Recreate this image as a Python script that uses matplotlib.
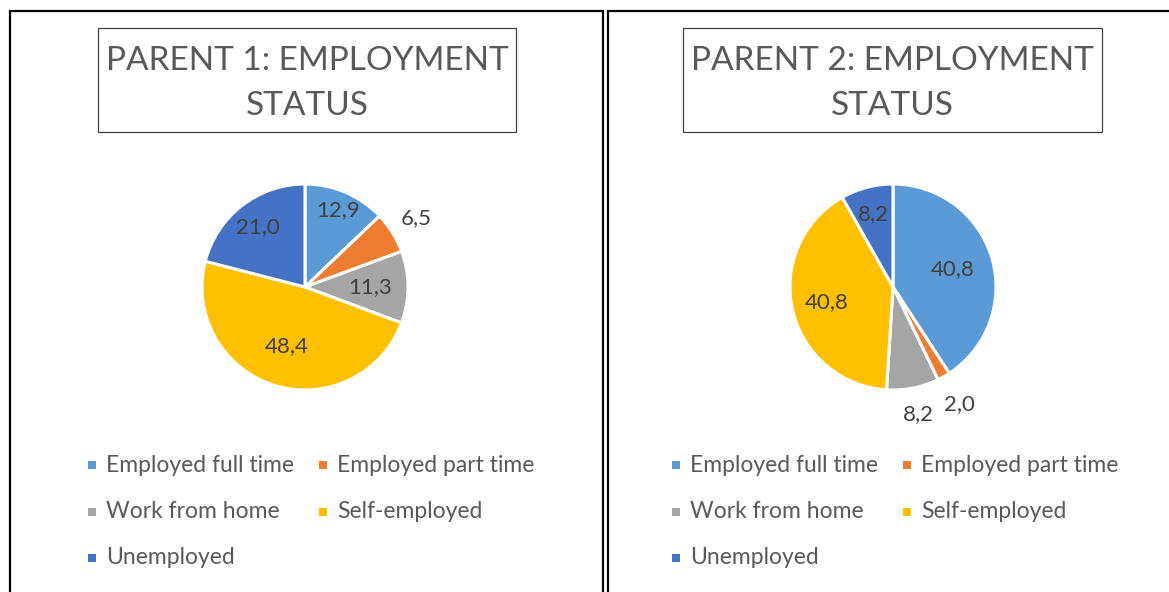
import numpy as np
import matplotlib
matplotlib.use("Agg")
import matplotlib.pyplot as plt
from matplotlib.patches import Rectangle

# data
categories = ["Employed full time", "Employed part time", "Work from home",
              "Self-employed", "Unemployed"]
parent1 = [12.9, 6.5, 11.3, 48.4, 21.0]
parent2 = [40.8, 2.0, 8.2, 40.8, 8.2]
titles = ["PARENT 1: EMPLOYMENT\nSTATUS", "PARENT 2: EMPLOYMENT\nSTATUS"]

colors = ["#5B9BD5", "#ED7D31", "#A5A5A5", "#FFC000", "#4472C4"]
# label distance from centre (fraction of radius), Excel "best fit" look
dist1 = [0.81, 1.27, 0.63, 0.60, 0.74]
dist2 = [0.60, 1.31, 1.26, 0.66, 0.73]

W, H = 1169, 592
fig = plt.figure(figsize=(W / 100, H / 100), dpi=100)
plt.rcParams['font.family'] = ['Lato', 'DejaVu Sans']

def fx(x):
    return x / W

def fy(y):
    return 1 - y / H

txt_gray = "#595959"
lbl_gray = "#404040"

panels = [
    dict(x0=10, x1=603, cx=305, vals=parent1, dist=dist1, title=titles[0],
         box=(98, 516), mk=(92, 323)),
    dict(x0=608, x1=1175, cx=893, vals=parent2, dist=dist2, title=titles[1],
         box=(683, 1102), mk=(676, 907)),
]

cy = 287
r = 103

for p in panels:
    # panel border
    fig.add_artist(Rectangle((fx(p["x0"]), fy(600)), fx(p["x1"] - p["x0"]), (600 - 11) / H,
                             transform=fig.transFigure, fill=False, edgecolor="black",
                             linewidth=1.6))
    # title box
    bx0, bx1 = p["box"]
    fig.add_artist(Rectangle((fx(bx0), fy(132)), fx(bx1 - bx0), (132 - 28) / H,
                             transform=fig.transFigure, fill=False, edgecolor="#404040",
                             linewidth=0.9))
    fig.text(fx((bx0 + bx1) / 2), fy(61), p["title"].split("\n")[0], ha="center",
             va="center", fontsize=24, color=txt_gray)
    fig.text(fx((bx0 + bx1) / 2), fy(106), p["title"].split("\n")[1], ha="center",
             va="center", fontsize=24, color=txt_gray)

    # pie
    ax = fig.add_axes([fx(p["cx"] - r), fy(cy + r), fx(2 * r), 2 * r / H])
    vals = p["vals"]
    ax.pie(vals, colors=colors, startangle=90, counterclock=False,
           wedgeprops=dict(edgecolor="white", linewidth=2.2), radius=1)
    ax.set_xlim(-1, 1)
    ax.set_ylim(-1, 1)
    ax.set_aspect("equal")
    ax.axis("off")
    total = sum(vals)
    cum = 0
    for v, d in zip(vals, p["dist"]):
        mid = np.deg2rad(90 - (cum + v / 2) / total * 360)
        cum += v
        ax.text(d * np.cos(mid), d * np.sin(mid), f"{v:.1f}".replace(".", ","),
                ha="center", va="center", fontsize=16, color=lbl_gray, clip_on=False)

    # legend
    rows = [465, 512, 558]
    for i, (cat, c) in enumerate(zip(categories, colors)):
        mx = p["mk"][i % 2]
        my = rows[i // 2]
        fig.add_artist(Rectangle((fx(mx - 4), fy(my + 4)), fx(8), 8 / H,
                                 transform=fig.transFigure, facecolor=c, edgecolor="none"))
        fig.text(fx(mx + 14), fy(my), cat, ha="left", va="center", fontsize=16.5,
                 color=txt_gray)

fig.savefig("out.png", dpi=100)
